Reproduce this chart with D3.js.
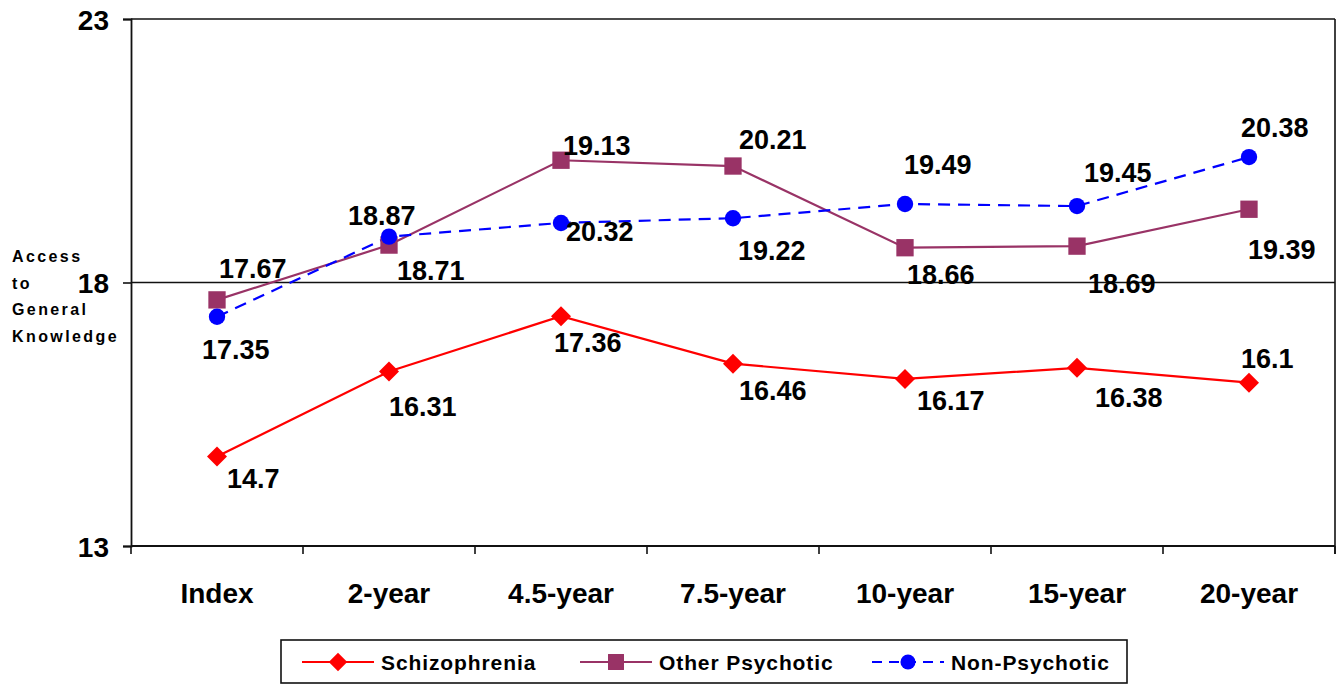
<!DOCTYPE html>
<html>
<head>
<meta charset="utf-8">
<script src="https://cdn.jsdelivr.net/npm/d3@7"></script>
<style>
  html, body { margin: 0; padding: 0; background: #fff; }
  svg { display: block; font-family: "Liberation Sans", Arial, sans-serif; font-weight: bold; }
</style>
</head>
<body>
<svg id="chart" width="1344" height="684"></svg>
<script>
// ---------- data ----------
const categories = ["Index", "2-year", "4.5-year", "7.5-year", "10-year", "15-year", "20-year"];
const yTicks = [13, 18, 23];
const yTitle = ["Access", "to", "General", "Knowledge"];

const seriesNames = ["Schizophrenia", "Other Psychotic", "Non-Psychotic"];
const schizophrenia = [14.7, 16.31, 17.36, 16.46, 16.17, 16.38, 16.1];
const otherPsychotic = [17.67, 18.71, 20.32, 20.21, 18.66, 18.69, 19.39];
const nonPsychotic = [17.35, 18.87, 19.13, 19.22, 19.49, 19.45, 20.38];

// data label texts as printed in the chart
const schizoLabels = ["14.7", "16.31", "17.36", "16.46", "16.17", "16.38", "16.1"];
const otherLabels = ["17.67", "18.71", "19.13", "20.21", "18.66", "18.69", "19.39"];
const nonLabels = ["17.35", "18.87", "20.32", "19.22", "19.49", "19.45", "20.38"];

// ---------- layout (label offsets relative to their point) ----------
const schizoOff = [[10, 32], [0, 44], [-7, 36], [6, 36], [12, 31], [18, 39], [-8, -15]];
const otherOff = [[2, -22], [8, 35], [2, -5], [6, -17], [2, 36], [11, 47], [-1, 50]];
const nonOff = [[-15, 42], [-41, -12], [5, 18], [5, 42], [-1, -30], [7, -24], [-8, -20]];

const colors = ["#FF0000", "#993366", "#0000FF"];
const shapes = [d3.symbolSquare, d3.symbolSquare, d3.symbolCircle];
const shapeSizes = [200, 300, 210];
const rotations = [45, 0, 0];
const dashes = [null, null, "12,8"];

const seriesData = [schizophrenia, otherPsychotic, nonPsychotic];
const seriesLabels = [schizoLabels, otherLabels, nonLabels];
const seriesOffsets = [schizoOff, otherOff, nonOff];

// ---------- scales ----------
const svg = d3.select("#chart");
const plot = { left: 131, right: 1335, top: 19, bottom: 546 };

const x = d3.scaleBand().domain(categories).range([plot.left, plot.right]).padding(0);
const y = d3.scaleLinear().domain([13, 23]).range([plot.bottom, plot.top]);
const cx = c => x(c) + x.bandwidth() / 2;

// gridlines
svg.append("g").selectAll("line").data(yTicks).join("line")
  .attr("x1", plot.left).attr("x2", plot.right)
  .attr("y1", d => y(d)).attr("y2", d => y(d))
  .attr("stroke", "#111").attr("stroke-width", 1.6);

// plot frame (right side)
svg.append("line").attr("x1", plot.right).attr("x2", plot.right)
  .attr("y1", plot.top).attr("y2", plot.bottom + 8)
  .attr("stroke", "#111").attr("stroke-width", 1.6);

// y axis
const yAxis = svg.append("g").attr("transform", `translate(${plot.left},0)`)
  .call(d3.axisLeft(y).tickValues(yTicks).tickSize(8).tickPadding(14).tickFormat(d3.format("d")));
yAxis.select(".domain").attr("stroke", "#111").attr("stroke-width", 1.8);
yAxis.selectAll(".tick line").attr("stroke", "#111").attr("stroke-width", 1.6);
yAxis.selectAll(".tick text").attr("font-size", 28).attr("font-weight", "bold")
  .attr("font-family", "'Liberation Sans', Arial, sans-serif").attr("fill", "#000").attr("dy", "0.36em");

// x axis
const xTickScale = d3.scaleLinear().domain([0, categories.length]).range([plot.left, plot.right]);
const xAxisG = svg.append("g").attr("transform", `translate(0,${plot.bottom})`);
xAxisG.append("line").attr("x1", plot.left).attr("x2", plot.right).attr("y1", 0).attr("y2", 0)
  .attr("stroke", "#111").attr("stroke-width", 1.8);
xAxisG.selectAll("line.tk").data(d3.range(categories.length + 1)).join("line").attr("class", "tk")
  .attr("x1", d => xTickScale(d)).attr("x2", d => xTickScale(d))
  .attr("y1", 0).attr("y2", 8).attr("stroke", "#111").attr("stroke-width", 1.6);
xAxisG.selectAll("text").data(categories).join("text")
  .attr("x", d => cx(d)).attr("y", 57)
  .attr("text-anchor", "middle").attr("font-size", 28).attr("fill", "#000")
  .text(d => d);

// y title
svg.append("g").selectAll("text").data(yTitle).join("text")
  .attr("x", 12).attr("y", (d, i) => 262 + i * 26.7)
  .attr("font-size", 16).attr("letter-spacing", "2.4px").attr("fill", "#000")
  .text(d => d);

// series
seriesData.forEach((vals, si) => {
  const pts = vals.map((v, i) => [cx(categories[i]), y(v)]);
  const line = d3.line();
  svg.append("path").attr("d", line(pts)).attr("fill", "none")
    .attr("stroke", colors[si]).attr("stroke-width", 2.2)
    .attr("stroke-dasharray", dashes[si]);
});
seriesData.forEach((vals, si) => {
  const sym = d3.symbol().type(shapes[si]).size(shapeSizes[si]);
  svg.append("g").selectAll("path").data(vals).join("path")
    .attr("d", sym)
    .attr("transform", (v, i) => `translate(${cx(categories[i])},${y(v)}) rotate(${rotations[si]})`)
    .attr("fill", colors[si]);
});
seriesData.forEach((vals, si) => {
  svg.append("g").selectAll("text").data(vals).join("text")
    .attr("x", (v, i) => cx(categories[i]) + seriesOffsets[si][i][0])
    .attr("y", (v, i) => y(v) + seriesOffsets[si][i][1])
    .attr("font-size", 27).attr("fill", "#000")
    .text((v, i) => seriesLabels[si][i]);
});

// legend
const legend = svg.append("g");
legend.append("rect").attr("x", 281).attr("y", 640).attr("width", 846).attr("height", 43)
  .attr("fill", "#fff").attr("stroke", "#111").attr("stroke-width", 1.6);
const legendX = [302, 580, 872];
seriesNames.forEach((name, si) => {
  const g = legend.append("g").attr("transform", `translate(${legendX[si]},662)`);
  g.append("line").attr("x1", 0).attr("x2", 72).attr("y1", 0).attr("y2", 0)
    .attr("stroke", colors[si]).attr("stroke-width", 2.2)
    .attr("stroke-dasharray", si === 2 ? "10,7" : null);
  g.append("path").attr("d", d3.symbol().type(shapes[si]).size(shapeSizes[si] * 0.85))
    .attr("transform", `translate(36,0) rotate(${rotations[si]})`).attr("fill", colors[si]);
  g.append("text").attr("x", 79).attr("y", 8).attr("font-size", 21)
    .attr("letter-spacing", "0.9px").attr("fill", "#000").text(name);
});
</script>
</body>
</html>
